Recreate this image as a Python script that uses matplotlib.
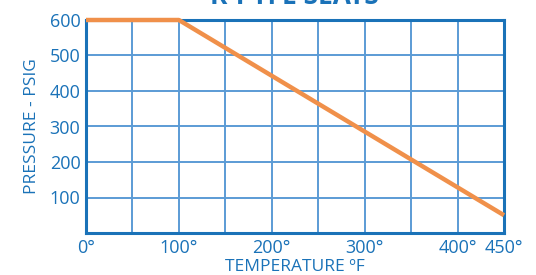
import matplotlib
matplotlib.use("Agg")
import matplotlib.pyplot as plt

temps = [0, 100, 450]
pressures = [600, 600, 50]
x_ticks = [0, 100, 200, 300, 400, 450]
x_tick_labels = ["0°", "100°", "200°", "300°", "400°", "450°"]
y_ticks = [100, 200, 300, 400, 500, 600]

BLUE = "#1a72b8"
GRID = "#5b9bd5"
ORANGE = "#f0904a"

plt.rcParams["font.family"] = ["Open Sans", "DejaVu Sans"]

fig = plt.figure(figsize=(5.36, 2.75), dpi=100)
ax = fig.add_axes([86 / 536, 1 - 233 / 275, 418 / 536, 213 / 275])

ax.set_xlim(0, 450)
ax.set_ylim(0, 600)
for xv in range(50, 450, 50):
    ax.axvline(xv, color=GRID, linewidth=1.4, zorder=1)
for yv in range(100, 600, 100):
    ax.axhline(yv, color=GRID, linewidth=1.4, zorder=1)

ax.plot(temps, pressures, color=ORANGE, linewidth=3.2, solid_capstyle="butt", zorder=3, clip_on=False)

for s in ax.spines.values():
    s.set_color(BLUE)
    s.set_linewidth(2.2)
    s.set_zorder(2)

ax.set_xticks(x_ticks)
ax.set_xticklabels(x_tick_labels)
ax.set_yticks(y_ticks)
ax.tick_params(length=0, colors=BLUE, labelsize=13, pad=4)
for lbl in ax.get_xticklabels() + ax.get_yticklabels():
    lbl.set_color(BLUE)

ax.set_xlabel("TEMPERATURE ºF", color=BLUE, fontsize=12.5, labelpad=2)
ax.set_ylabel("PRESSURE - PSIG", color=BLUE, fontsize=12.5, labelpad=7)

fig.text(0.55, 1.06, "R-PTFE SEATS", color=BLUE, fontsize=19, fontweight="bold",
         ha="center", va="top")

fig.savefig("out.png", dpi=100)
